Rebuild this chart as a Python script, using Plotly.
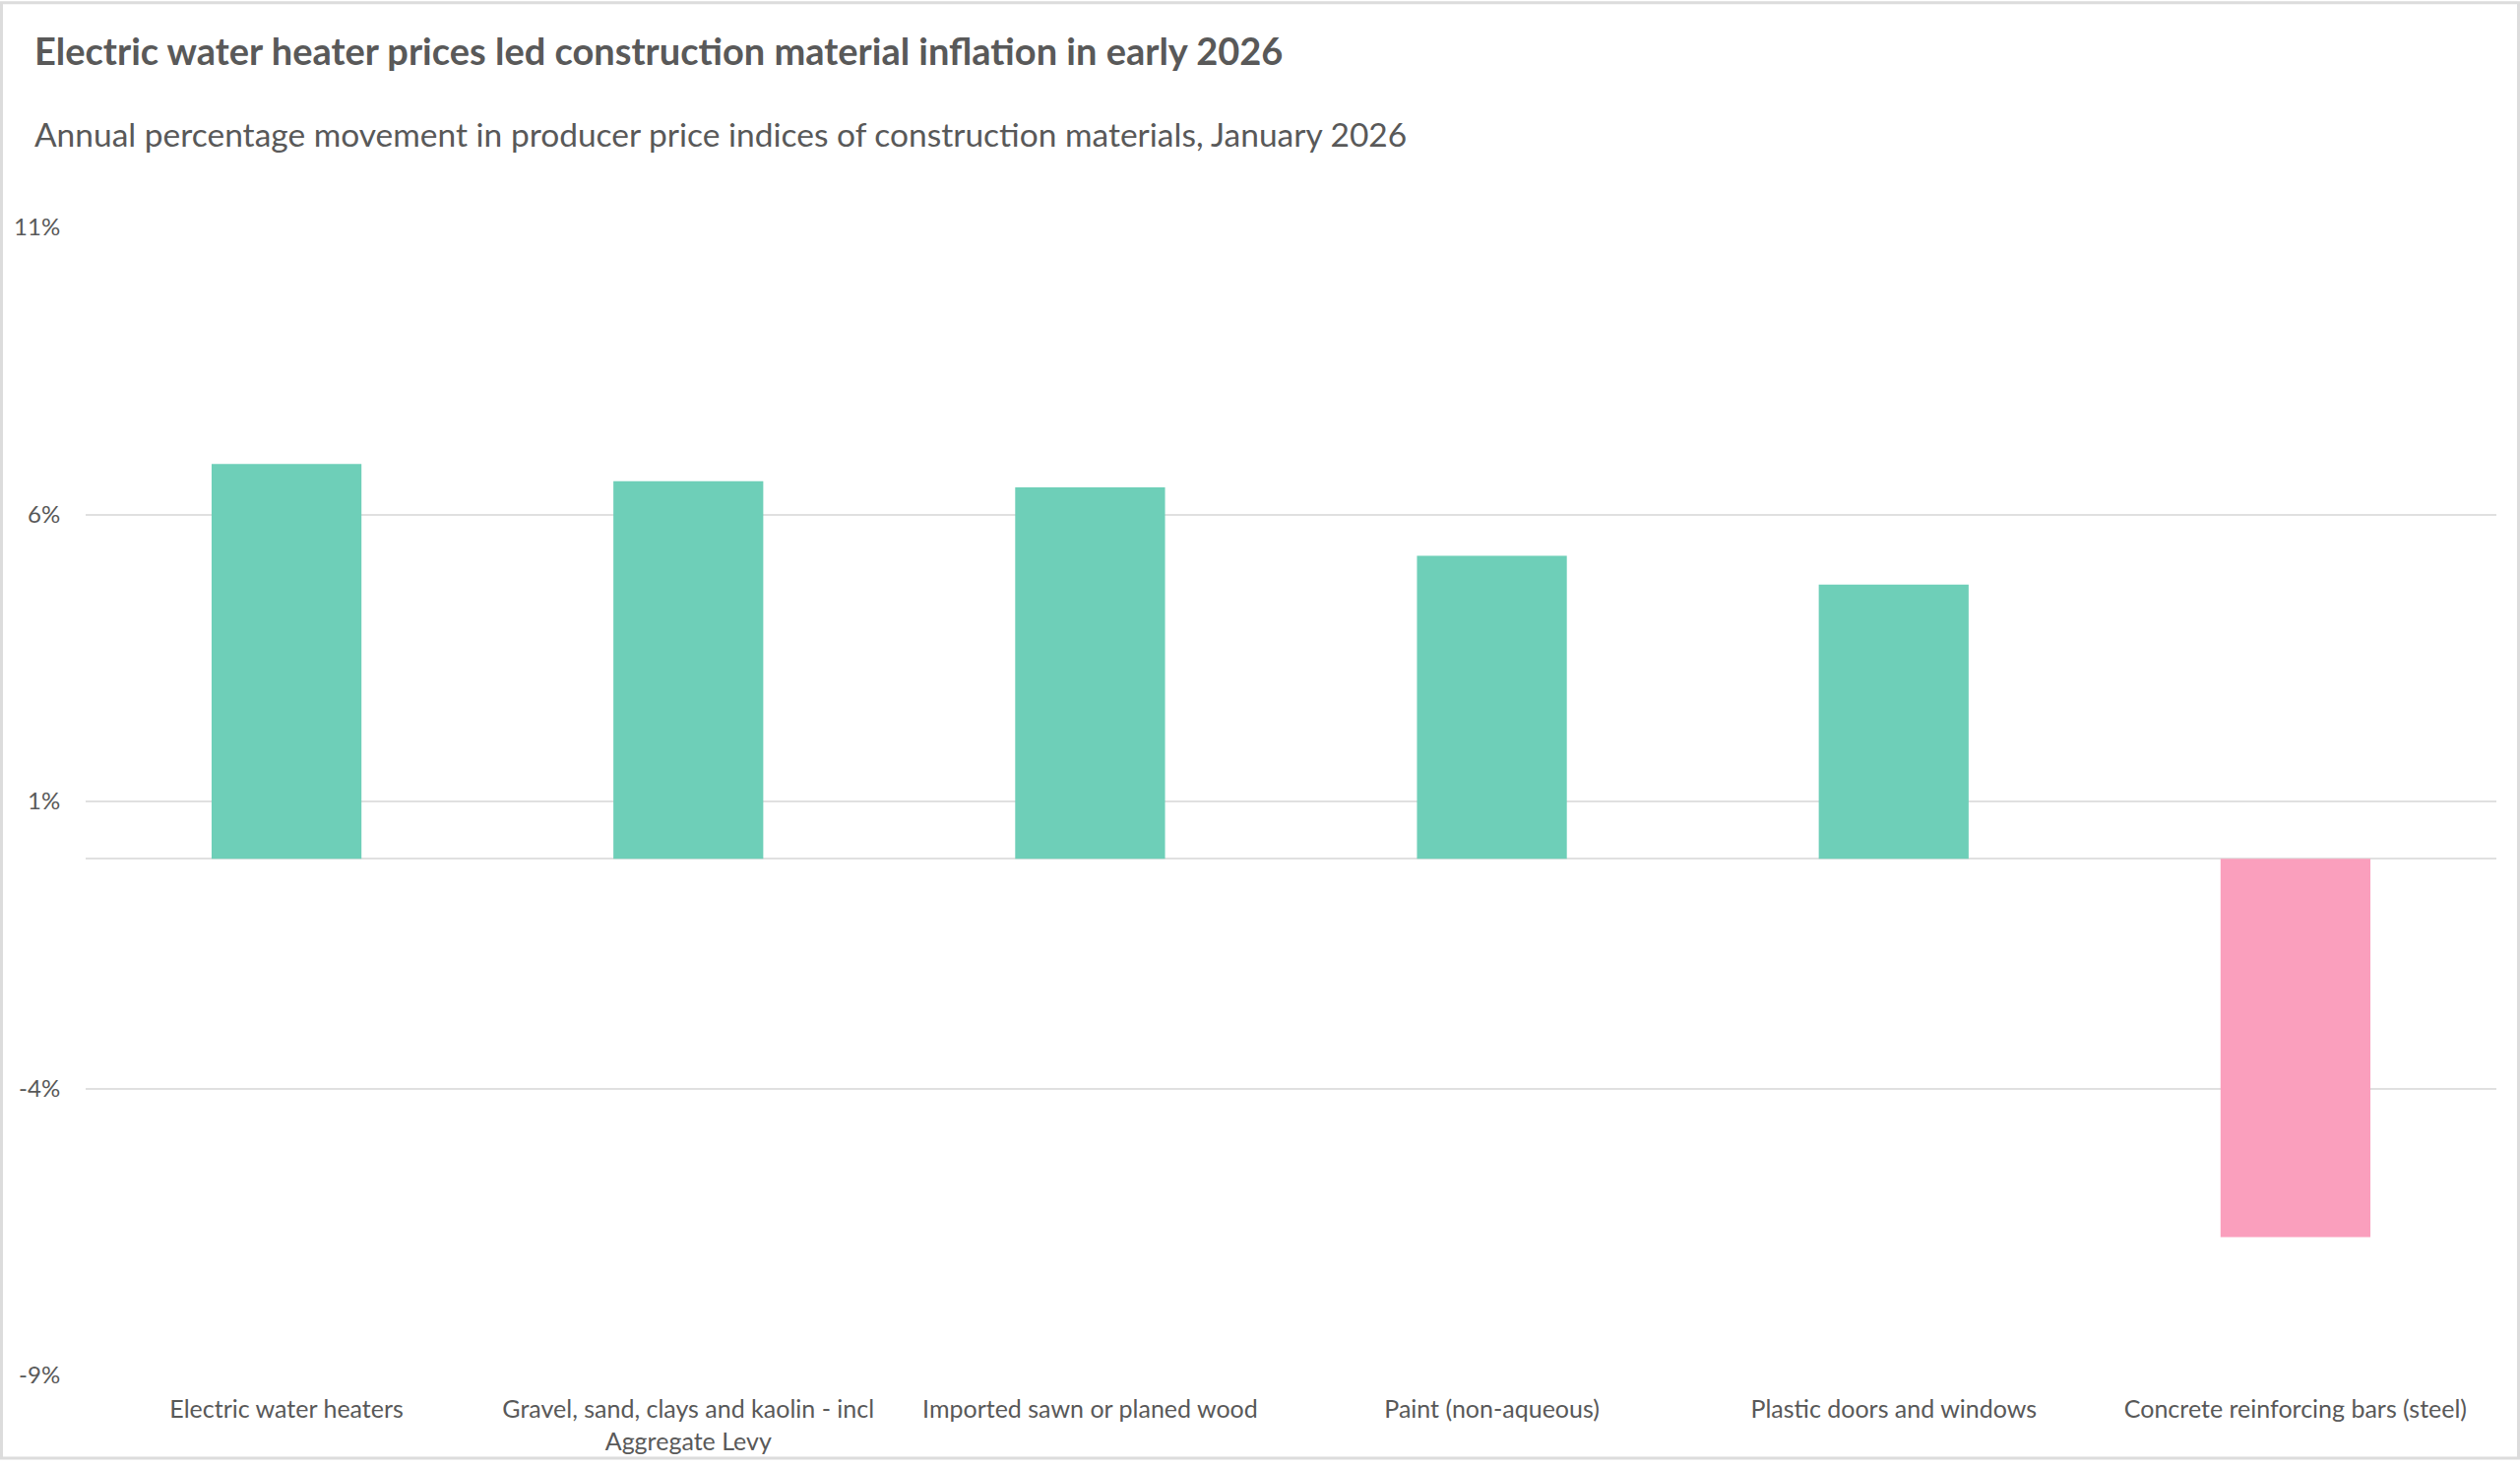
import plotly.graph_objects as go

categories = [
    "Electric water heaters",
    "Gravel, sand, clays and kaolin - incl Aggregate Levy",
    "Imported sawn or planed wood",
    "Paint (non-aqueous)",
    "Plastic doors and windows",
    "Concrete reinforcing bars (steel)",
]
tick_labels = [
    "Electric water heaters",
    "Gravel, sand, clays and kaolin - incl<br>Aggregate Levy",
    "Imported sawn or planed wood",
    "Paint (non-aqueous)",
    "Plastic doors and windows",
    "Concrete reinforcing bars (steel)",
]
values = [6.88, 6.58, 6.47, 5.28, 4.78, -6.59]
y_ticks = [-9, -4, 1, 6, 11]

title_text = "Electric water heater prices led construction material inflation in early 2026"
subtitle_text = "Annual percentage movement in producer price indices of construction materials, January 2026"

POS = "#6ecfb8"
NEG = "#fa9fbd"
TXT = "#595959"
GRID = "#e0e0e0"

W, H = 2560, 1490
ML, MR, MT, MB = 87, 24, 231, 86
pw = W - ML - MR
ph = H - MT - MB

fig = go.Figure(
    go.Bar(
        x=categories,
        y=values,
        marker=dict(color=[POS if v >= 0 else NEG for v in values], line=dict(width=0)),
        hoverinfo="x+y",
    )
)

fig.update_layout(
    width=W,
    height=H,
    autosize=False,
    margin=dict(l=ML, r=MR, t=MT, b=MB, pad=0),
    paper_bgcolor="white",
    plot_bgcolor="white",
    font=dict(family="Lato", color=TXT, size=25),
    bargap=0.627,
    showlegend=False,
    xaxis=dict(
        tickmode="array",
        tickvals=categories,
        ticktext=tick_labels,
        showgrid=False,
        showline=False,
        ticks="outside",
        ticklen=12,
        tickcolor="rgba(0,0,0,0)",
        tickfont=dict(size=25, color=TXT),
    ),
    yaxis=dict(
        range=[-9, 11],
        tickmode="array",
        tickvals=y_ticks,
        ticktext=[f"{t}%" for t in y_ticks],
        showgrid=True,
        gridcolor=GRID,
        gridwidth=2,
        zeroline=True,
        zerolinecolor=GRID,
        zerolinewidth=2,
        showline=False,
        ticks="outside",
        ticklen=20,
        tickcolor="rgba(0,0,0,0)",
        tickfont=dict(size=24, color=TXT),
    ),
)

# figure border
fig.add_shape(
    type="rect",
    xref="paper", yref="paper",
    x0=(1.5 - ML) / pw, x1=(W - 1.5 - ML) / pw,
    y0=-(MB - 1.5) / ph,
    y1=1 + (MT - 1.5) / ph,
    line=dict(color="#dcdcdc", width=3),
    fillcolor="rgba(0,0,0,0)",
    layer="below",
)

fig.add_annotation(
    text=f"<b>{title_text}</b>",
    xref="paper", yref="paper",
    x=(33 - ML) / pw, y=1 + (MT - 50) / ph,
    xanchor="left", yanchor="middle",
    showarrow=False,
    font=dict(family="Lato", size=38, color=TXT),
)
fig.add_annotation(
    text=subtitle_text,
    xref="paper", yref="paper",
    x=(33 - ML) / pw, y=1 + (MT - 135) / ph,
    xanchor="left", yanchor="middle",
    showarrow=False,
    font=dict(family="Lato", size=33.5, color=TXT),
)

fig.write_html(
    "out.html",
    config={"displayModeBar": False},
    post_script="document.body.style.margin='0';document.body.style.overflow='hidden';",
)
